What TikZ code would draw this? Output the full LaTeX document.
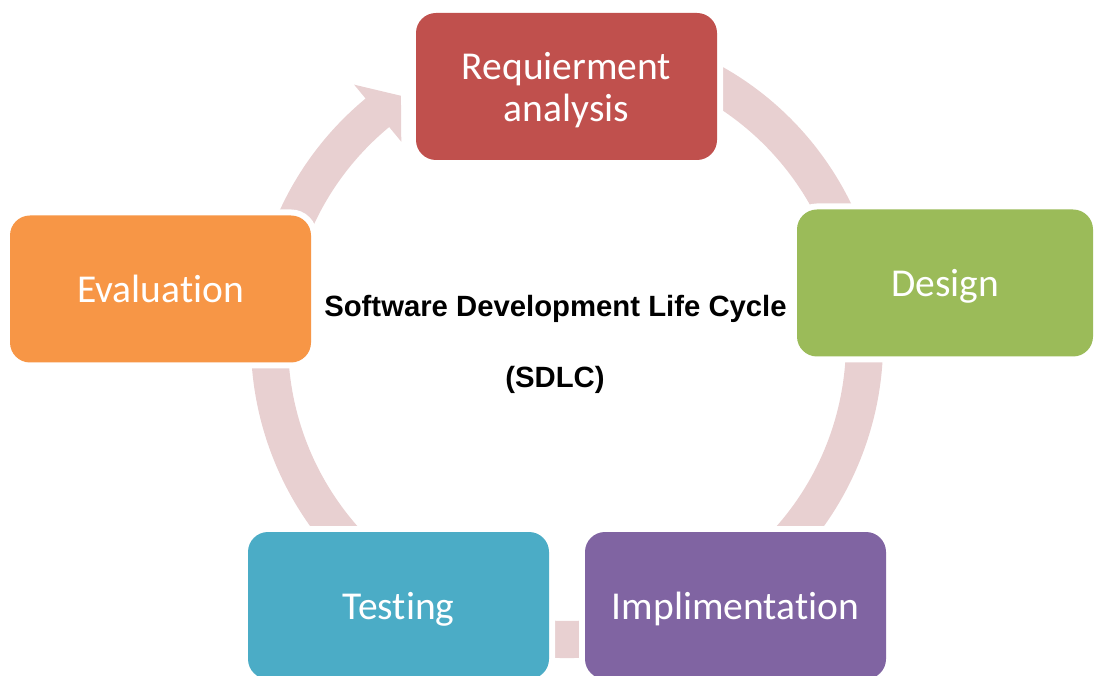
\documentclass[tikz,border=0pt]{standalone}
\usepackage{fontspec}
\setmainfont{Carlito}[Ligatures={NoCommon}]
\newfontfamily\titlefont{Liberation Sans}
\definecolor{ringc}{RGB}{232,208,209}
\definecolor{reqc}{HTML}{C0504D}
\definecolor{desc}{HTML}{9BBB59}
\definecolor{impc}{HTML}{8064A2}
\definecolor{tesc}{HTML}{4BACC6}
\definecolor{evac}{HTML}{F79646}
\begin{document}
\begin{tikzpicture}[x=1pt,y=1pt,
  phase/.style={rounded corners=20pt, minimum width=301pt, minimum height=147pt,
    inner sep=0pt, fill=#1, text=white, font=\fontsize{39.5}{42}\selectfont,
    align=center, text depth=0pt, preaction={draw=white, line width=12pt}},
  titletext/.style={font=\titlefont\bfseries\fontsize{29.3}{34}\selectfont, text=black, anchor=base, inner sep=0pt}]
\useasboundingbox (0,0) rectangle (1094,675);
\clip (0,0) rectangle (1094,675);
\coordinate (C) at (567,333);
% ring with arrowhead
\fill[ringc] ([shift={(C)}]70:316) arc[start angle=70, end angle=-230.4, radius=316]
  -- ([shift={(C)}]129.6:334) -- ([shift={(C)}]124:297) -- ([shift={(C)}]129.6:260)
  -- ([shift={(C)}]129.6:279) arc[start angle=-230.4, end angle=70, radius=279] -- cycle;
% phases
\node[phase=reqc] (req) at (566.5,588.5) {Requierment\\analysis};
\node[phase=desc, minimum width=296pt] (des) at (945,392) {Design};
\node[phase=impc] (imp) at (735.5,69.5) {Implimentation};
\node[phase=tesc] (tes) at (398.5,69.5) {Testing};
\node[phase=evac] (eva) at (160.5,386) {Evaluation};
% title
\node[titletext] (t1) at (555.5,358) {Software Development Life Cycle};
\node[titletext] (t2) at (555,287) {(SDLC)};
\end{tikzpicture}
\end{document}
